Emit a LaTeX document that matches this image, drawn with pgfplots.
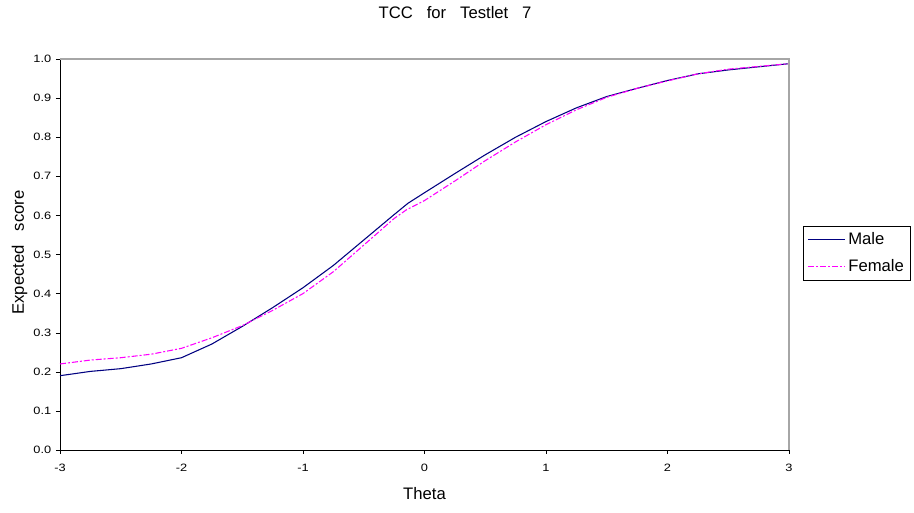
\documentclass[border=0pt]{standalone}
\usepackage{pgfplots}
\pgfplotsset{compat=1.18}
\usepackage{fontspec}
\setmainfont{Liberation Sans}
\newfontfamily\tickfont{Liberation Sans}[FakeStretch=1.2]
\definecolor{male}{RGB}{0,0,128}
\definecolor{female}{RGB}{255,0,255}
\begin{document}
\begin{tikzpicture}[x=0.75pt,y=0.75pt]
\useasboundingbox (-60,-63) rectangle (854,450);
\begin{axis}[
  at={(0,0)}, anchor=south west,
  scale only axis, width=546.75pt, height=293.25pt,
  xmin=-3, xmax=3, ymin=0, ymax=1,
  axis x line*=bottom, axis y line*=left,
  axis line style={black,-},
  xtick={-3,-2,-1,0,1,2,3},
  ytick={0,0.1,...,1.0},
  yticklabel style={/pgf/number format/.cd,fixed,fixed zerofill,precision=1},
  /pgf/number format/assume math mode=true,
  tick align=outside, major tick length=3pt,
  tick style={black},
  ticklabel style={font=\tickfont\fontsize{8}{9}\selectfont},
  xticklabel style={yshift=-4pt},
  xlabel={Theta}, ylabel={Expected\ \ \ score},
  label style={font=\fontsize{12.5}{14}\selectfont},
  xlabel style={at={(axis description cs:0.5,0)}, anchor=base, yshift=-37.5pt},
  ylabel style={at={(axis description cs:0,0.505)}, anchor=base, yshift=27pt},
  title={TCC\ \ \ for\ \ \ Testlet\ \ \ 7},
  title style={font=\fontsize{12.5}{14}\selectfont, at={(0.542,1)}, anchor=base, yshift=24pt},
  legend style={at={(1.0192,0.573)}, anchor=north west, draw=black, font=\fontsize{12.5}{14}\selectfont,
    inner xsep=3pt, inner ysep=3pt, row sep=5.5pt, legend cell align=left},
  legend image code/.code={\draw[#1] (0pt,0pt) -- (28pt,0pt);},
  clip=false,
]
\addplot[male, line width=0.8pt] coordinates {
(-3,0.190) (-2.75,0.201) (-2.5,0.208) (-2.25,0.220) (-2.0,0.236) (-1.75,0.271)
(-1.5,0.316) (-1.25,0.364) (-1.0,0.415) (-0.75,0.472) (-0.5,0.537) (-0.25,0.602)
(-0.136,0.631) (0.0,0.658) (0.25,0.707) (0.5,0.755) (0.75,0.800) (1.0,0.840)
(1.25,0.875) (1.5,0.904) (1.75,0.925) (2.0,0.945) (2.25,0.962) (2.5,0.972)
(2.75,0.980) (3.0,0.988)};
\addlegendentry{Male}
\addplot[female, line width=0.8pt, dash pattern=on 4.5pt off 1.5pt on 1.5pt off 1.5pt] coordinates {
(-3,0.220) (-2.75,0.230) (-2.5,0.236) (-2.25,0.245) (-2.0,0.260) (-1.75,0.287)
(-1.5,0.318) (-1.25,0.357) (-1.0,0.400) (-0.75,0.456) (-0.5,0.524) (-0.25,0.592)
(-0.15,0.614) (0.0,0.638) (0.25,0.688) (0.5,0.740) (0.75,0.788) (1.0,0.832)
(1.25,0.870) (1.5,0.902) (1.75,0.925) (2.0,0.944) (2.25,0.962) (2.5,0.974)
(2.75,0.981) (3.0,0.988)};
\addlegendentry{Female}
\draw[gray!70, line width=0.8pt] (rel axis cs:0,1) -- (rel axis cs:1,1) -- (rel axis cs:1,0);
\end{axis}
\end{tikzpicture}
\end{document}
